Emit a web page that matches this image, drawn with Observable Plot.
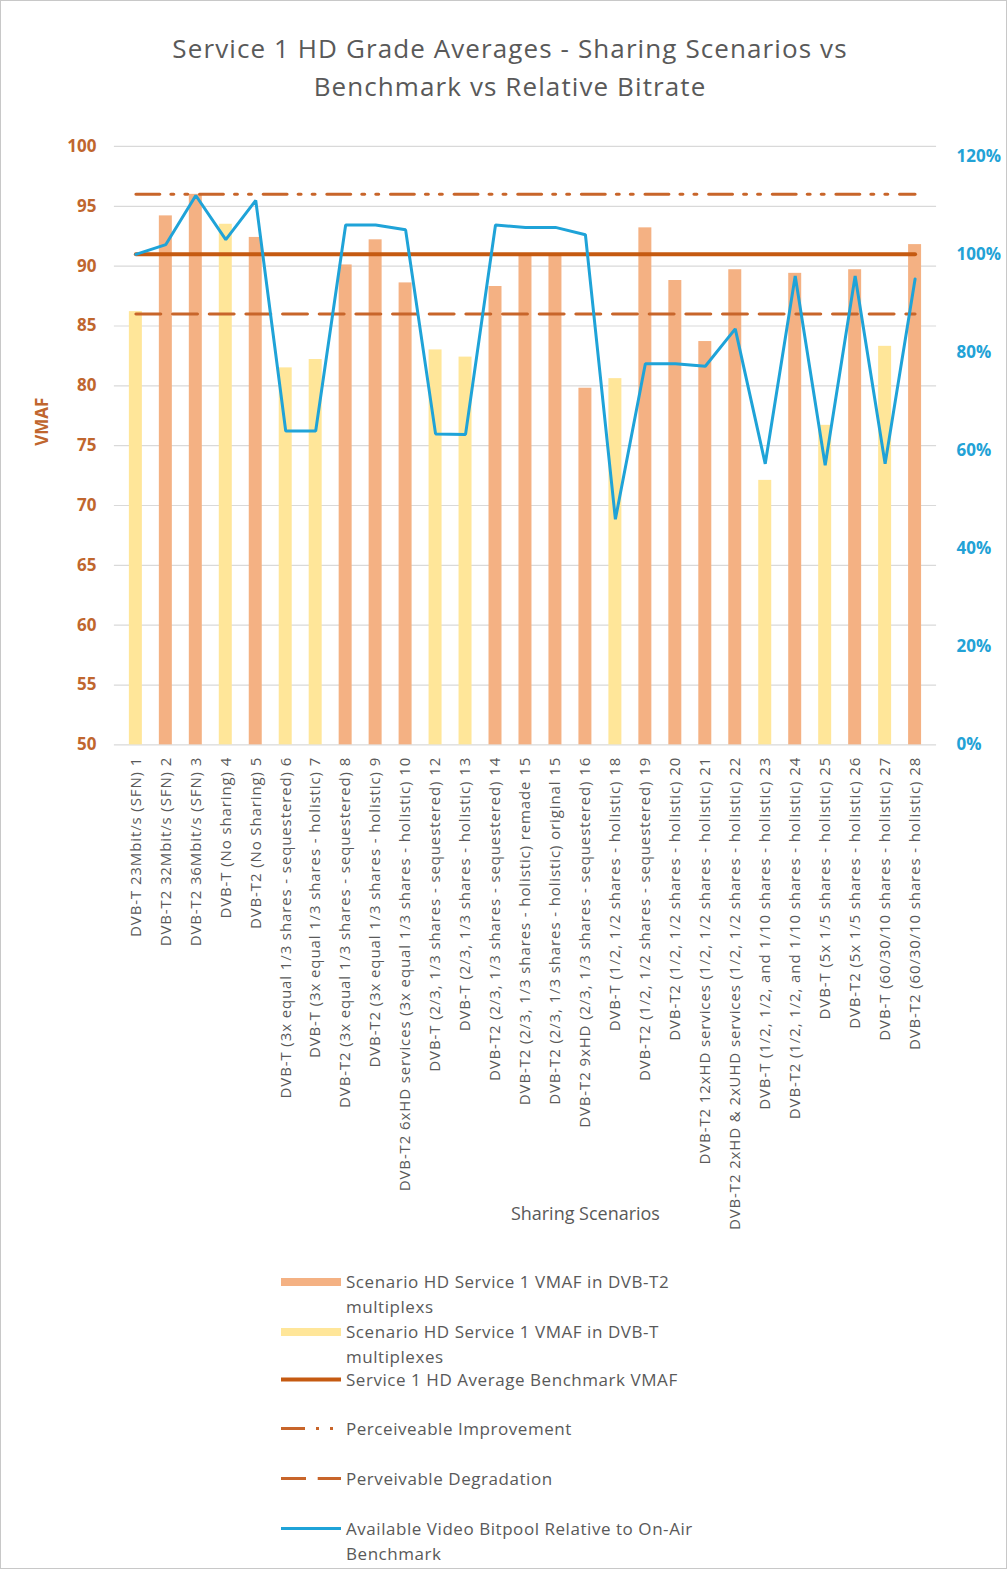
<!DOCTYPE html>
<html>
<head>
<meta charset="utf-8">
<script src="https://cdn.jsdelivr.net/npm/d3@7"></script>
<script src="https://cdn.jsdelivr.net/npm/@observablehq/plot@0.6"></script>
<style>
  body { margin: 0; background: #fff; font-family: "Open Sans", sans-serif; }
  #wrap { position: relative; width: 1005px; height: 1567px; border: 1px solid #c8c8c8; overflow: hidden; }
  #title { position: absolute; left: 0; width: 1018px; top: 28px; text-align: center; font-size: 26px; letter-spacing: 1.1px; line-height: 38px; color: #595959; }
  #chart { position: absolute; left: -1px; top: 114px; }
  #chart g[aria-label="x-axis tick label"] text { letter-spacing: 0.9px; }
  #legend { position: absolute; left: 279px; top: 1268px; color: #595959; font-size: 17px; letter-spacing: 0.55px; }
  .item { position: absolute; left: 0; width: 720px; }
  .item svg { position: absolute; left: 0; }
  .item .txt { position: absolute; left: 66px; line-height: 25px; white-space: nowrap; }
</style>
</head>
<body>
<div id="wrap">
  <div id="title">Service 1 HD Grade Averages - Sharing Scenarios vs<br>Benchmark vs Relative Bitrate</div>
  <div id="chart"></div>
  <div id="legend"></div>
</div>
<script>
// ---- data ----
const scenarios = [
  "DVB-T 23Mbit/s (SFN) 1",
  "DVB-T2 32Mbit/s (SFN) 2",
  "DVB-T2 36Mbit/s (SFN) 3",
  "DVB-T (No sharing) 4",
  "DVB-T2 (No Sharing) 5",
  "DVB-T (3x equal 1/3 shares - sequestered) 6",
  "DVB-T (3x equal 1/3 shares - holistic) 7",
  "DVB-T2 (3x equal 1/3 shares - sequestered) 8",
  "DVB-T2 (3x equal 1/3 shares - holistic) 9",
  "DVB-T2 6xHD services (3x equal 1/3 shares - holistic) 10",
  "DVB-T (2/3, 1/3 shares - sequestered) 12",
  "DVB-T (2/3, 1/3 shares - holistic) 13",
  "DVB-T2 (2/3, 1/3 shares - sequestered) 14",
  "DVB-T2 (2/3, 1/3 shares - holistic) remade 15",
  "DVB-T2 (2/3, 1/3 shares - holistic) original 15",
  "DVB-T2 9xHD (2/3, 1/3 shares - sequestered) 16",
  "DVB-T (1/2, 1/2 shares - holistic) 18",
  "DVB-T2 (1/2, 1/2 shares - sequestered) 19",
  "DVB-T2 (1/2, 1/2 shares - holistic) 20",
  "DVB-T2 12xHD services (1/2, 1/2 shares - holistic) 21",
  "DVB-T2 2xHD & 2xUHD services (1/2, 1/2 shares - holistic) 22",
  "DVB-T (1/2, 1/2, and 1/10 shares - holistic) 23",
  "DVB-T2 (1/2, 1/2, and 1/10 shares - holistic) 24",
  "DVB-T (5x 1/5 shares - holistic) 25",
  "DVB-T2 (5x 1/5 shares - holistic) 26",
  "DVB-T (60/30/10 shares - holistic) 27",
  "DVB-T2 (60/30/10 shares - holistic) 28"
];
const network = ["T","T2","T2","T","T2","T","T","T2","T2","T2","T","T","T2","T2","T2","T2","T","T2","T2","T2","T2","T","T2","T","T2","T","T2"];
const vmaf = [86.2, 94.2, 96.0, 93.5, 92.4, 81.5, 82.2, 90.1, 92.2, 88.6, 83.0, 82.4, 88.3, 90.9, 90.9, 79.8, 80.6, 93.2, 88.8, 83.7, 89.7, 72.1, 89.4, 76.7, 89.7, 83.3, 91.8];
const bitpool = [1.00, 1.02, 1.12, 1.03, 1.11, 0.64, 0.64, 1.06, 1.06, 1.05, 0.634, 0.633, 1.06, 1.055, 1.055, 1.04, 0.46, 0.777, 0.777, 0.772, 0.848, 0.573, 0.956, 0.57, 0.956, 0.573, 0.95];
const benchmark = 91;
const improvement = 96;
const degradation = 86;
const leftTicks = [50, 55, 60, 65, 70, 75, 80, 85, 90, 95, 100];
const rightTicks = [0, 0.2, 0.4, 0.6, 0.8, 1.0, 1.2];
const rightMax = 1.22;

const colT2 = "#F4B183", colT = "#FFE699", colBench = "#C55A11", colDash = "#C8652A", colBlue = "#1FA3D8";

// secondary axis mapped onto the primary VMAF scale
const toLeft = p => 50 + p / rightMax * 50;
const rows = scenarios.map((s, i) => ({scenario: s, net: network[i], vmaf: vmaf[i], bitpool: bitpool[i]}));

const chart = Plot.plot({
  width: 1007,
  height: 1125,
  marginLeft: 114,
  marginRight: 70,
  marginTop: 31,
  marginBottom: 495,
  style: {fontFamily: "'Open Sans', sans-serif", background: "transparent", overflow: "visible"},
  x: {domain: scenarios, paddingInner: 0.58, paddingOuter: 0.29, axis: null},
  y: {domain: [50, 100], axis: null},
  color: {domain: ["T2", "T"], range: [colT2, colT]},
  marks: [
    Plot.gridY(leftTicks, {stroke: "#d9d9d9", strokeOpacity: 1, strokeWidth: 1.2}),
    Plot.barY(rows, {x: "scenario", y1: 50, y2: "vmaf", fill: "net"}),
    Plot.line(scenarios, {x: d => d, y: () => degradation, stroke: colDash, strokeWidth: 3, strokeDasharray: "25,11.7"}),
    Plot.line(scenarios, {x: d => d, y: () => improvement, stroke: colDash, strokeWidth: 3, strokeDasharray: "24,11,3,11,3,11.7"}),
    Plot.line(scenarios, {x: d => d, y: () => benchmark, stroke: colBench, strokeWidth: 4}),
    Plot.line(rows, {x: "scenario", y: d => toLeft(d.bitpool), stroke: colBlue, strokeWidth: 3, strokeLinejoin: "miter"}),
    Plot.axisY(leftTicks, {anchor: "left", tickSize: 0, tickPadding: 18, color: "#C0662E", fontSize: 17, fontWeight: "bold", label: null}),
    Plot.axisY(rightTicks.map(toLeft), {anchor: "right", tickSize: 0, tickPadding: 20, color: "#22A2D6", fontSize: 17, fontWeight: "bold", label: null,
      tickFormat: v => Math.round((v - 50) / 50 * rightMax * 100) + "%"}),
    Plot.axisX({anchor: "bottom", tickRotate: -90, tickSize: 0, tickPadding: 12, fontSize: 15, color: "#595959", label: null}),
    Plot.text(["VMAF"], {frameAnchor: "left", text: d => d, rotate: -90, dx: -72, fontSize: 17, fontWeight: "bold", fill: "#C0662E"}),
    Plot.text(["Sharing Scenarios"], {frameAnchor: "bottom", text: d => d, dx: 60, dy: 476, fontSize: 18, fill: "#595959", style: "letter-spacing:0.8px"})
  ]
});
document.getElementById("chart").appendChild(chart);

// ---- legend ----
const legendItems = [
  {top: 0,   kind: "rect", color: colT2, text: ["Scenario HD Service 1 VMAF in DVB-T2", "multiplexs"]},
  {top: 50,  kind: "rect", color: colT, text: ["Scenario HD Service 1 VMAF in DVB-T", "multiplexes"]},
  {top: 98,  kind: "line", color: colBench, width: 4, dash: null, text: ["Service 1 HD Average Benchmark VMAF"]},
  {top: 147, kind: "line", color: colDash, width: 3, dash: "24,11,3,11,3,11.7", text: ["Perceiveable Improvement"]},
  {top: 197, kind: "line", color: colDash, width: 3, dash: "25,11.7", text: ["Perveivable Degradation"]},
  {top: 247, kind: "line", color: colBlue, width: 3, dash: null, text: ["Available Video Bitpool Relative to On-Air", "Benchmark"]}
];
const legend = d3.select("#legend");
for (const it of legendItems) {
  const div = legend.append("div").attr("class", "item").style("top", it.top + "px");
  const svg = div.append("svg").attr("width", 62).attr("height", 25).style("top", "0px");
  if (it.kind === "rect") {
    svg.append("rect").attr("x", 1).attr("y", 9).attr("width", 60).attr("height", 8).attr("fill", it.color);
  } else {
    svg.append("line").attr("x1", 1).attr("x2", 61).attr("y1", 12.5).attr("y2", 12.5)
      .attr("stroke", it.color).attr("stroke-width", it.width).attr("stroke-dasharray", it.dash);
  }
  div.append("div").attr("class", "txt").html(it.text.join("<br>"));
}
</script>
</body>
</html>
